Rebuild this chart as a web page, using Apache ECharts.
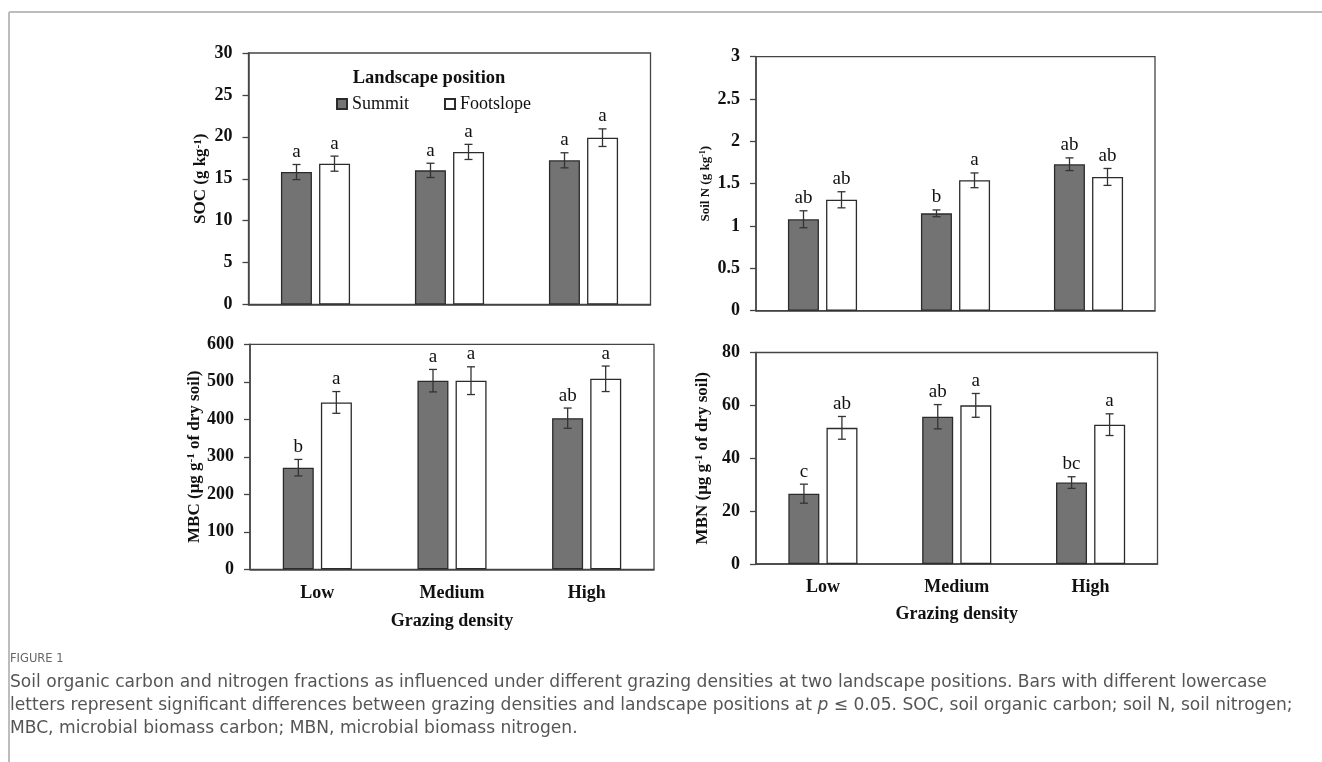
<!DOCTYPE html>
<html>
<head>
<meta charset="utf-8">
<script src="https://cdn.jsdelivr.net/npm/echarts@6/dist/echarts.min.js"></script>
<style>
html,body{margin:0;padding:0;background:#fff;}
#chart{width:1322px;height:762px;}
</style>
</head>
<body>
<div id="chart"></div>
<script>
// ---------- data ----------
const categories = ['Low', 'Medium', 'High'];
const seriesNames = ['Summit', 'Footslope'];

const socSummit = [15.8, 16.0, 17.2];
const socSummitErr = [0.9, 0.85, 0.9];
const socFoot = [16.8, 18.2, 19.9];
const socFootErr = [0.9, 0.9, 1.05];
const socSummitLetters = ['a', 'a', 'a'];
const socFootLetters = ['a', 'a', 'a'];

const nSummit = [1.08, 1.15, 1.73];
const nSummitErr = [0.1, 0.04, 0.075];
const nFoot = [1.31, 1.54, 1.58];
const nFootErr = [0.095, 0.087, 0.1];
const nSummitLetters = ['ab', 'b', 'ab'];
const nFootLetters = ['ab', 'a', 'ab'];

const mbcSummit = [271, 503, 403];
const mbcSummitErr = [22, 30, 27];
const mbcFoot = [445, 503, 508];
const mbcFootErr = [29, 37, 34];
const mbcSummitLetters = ['b', 'a', 'ab'];
const mbcFootLetters = ['a', 'a', 'a'];

const mbnSummit = [26.6, 55.7, 30.8];
const mbnSummitErr = [3.6, 4.6, 2.2];
const mbnFoot = [51.5, 60.0, 52.7];
const mbnFootErr = [4.3, 4.5, 4.1];
const mbnSummitLetters = ['c', 'ab', 'bc'];
const mbnFootLetters = ['ab', 'a', 'a'];

const yMax = [30, 3, 600, 80];
const yInterval = [5, 0.5, 100, 20];

const captionLabel = 'FIGURE 1';
const captionLines = [
  'Soil organic carbon and nitrogen fractions as influenced under different grazing densities at two landscape positions. Bars with different lowercase',
  'letters represent significant differences between grazing densities and landscape positions at {i|p} ≤ 0.05. SOC, soil organic carbon; soil N, soil nitrogen;',
  'MBC, microbial biomass carbon; MBN, microbial biomass nitrogen.'
];

// ---------- styling ----------
const SERIF = '"Liberation Serif", "Times New Roman", serif';
const SANS = '"DejaVu Sans", "Noto Sans", sans-serif';
const AX = '#444';
const BAR_W = 31;
const OFFSET = 19;

const grids = [
  {left: 248.5, top: 53, width: 402, height: 251.5},
  {left: 756, top: 56.7, width: 399, height: 254},
  {left: 250, top: 344.3, width: 404, height: 225},
  {left: 756, top: 352.5, width: 401.5, height: 211.5}
];

const yNames = [
  {text: 'SOC (g kg{sup|-1})', gap: 39, size: 17},
  {text: 'Soil N (g kg{sup|-1})', gap: 44, size: 13},
  {text: 'MBC (μg g{sup|-1} of dry soil)', gap: 47, size: 17},
  {text: 'MBN (μg g{sup|-1} of dry soil)', gap: 45, size: 17}
];

const panels = [
  {s: socSummit, se: socSummitErr, sl: socSummitLetters, f: socFoot, fe: socFootErr, fl: socFootLetters},
  {s: nSummit, se: nSummitErr, sl: nSummitLetters, f: nFoot, fe: nFootErr, fl: nFootLetters},
  {s: mbcSummit, se: mbcSummitErr, sl: mbcSummitLetters, f: mbcFoot, fe: mbcFootErr, fl: mbcFootLetters},
  {s: mbnSummit, se: mbnSummitErr, sl: mbnSummitLetters, f: mbnFoot, fe: mbnFootErr, fl: mbnFootLetters}
];

function errRender(offset, letters) {
  return function (params, api) {
    const x = api.value(0), v = api.value(1), e = api.value(2);
    const hi = api.coord([x, v + e]);
    const lo = api.coord([x, v - e]);
    const cx = hi[0] + offset;
    const cap = 4;
    const st = {stroke: '#333', lineWidth: 1.3};
    return {
      type: 'group',
      children: [
        {type: 'line', shape: {x1: cx, y1: hi[1], x2: cx, y2: lo[1]}, style: st},
        {type: 'line', shape: {x1: cx - cap, y1: hi[1], x2: cx + cap, y2: hi[1]}, style: st},
        {type: 'line', shape: {x1: cx - cap, y1: lo[1], x2: cx + cap, y2: lo[1]}, style: st},
        {type: 'text', style: {text: letters[params.dataIndex], x: cx, y: hi[1] - 3,
          align: 'center', verticalAlign: 'bottom', fill: '#111',
          font: '19px ' + SERIF}}
      ]
    };
  };
}

const option = {
  animation: false,
  backgroundColor: '#fff',
  grid: grids.map(g => Object.assign({show: true, borderColor: AX, borderWidth: 1.3, backgroundColor: 'transparent'}, g)),
  xAxis: grids.map((g, i) => ({
    type: 'category', gridIndex: i, data: categories,
    axisLine: {lineStyle: {color: AX, width: 1.5}},
    axisTick: {show: false},
    axisLabel: {show: i >= 2, margin: i === 2 ? 15 : 14, color: '#111', fontFamily: SERIF, fontWeight: 'bold', fontSize: 18},
    name: i >= 2 ? 'Grazing density' : '',
    nameLocation: 'middle', nameGap: i === 2 ? 43 : 41,
    nameTextStyle: {color: '#111', fontFamily: SERIF, fontWeight: 'bold', fontSize: 18}
  })),
  yAxis: grids.map((g, i) => ({
    type: 'value', gridIndex: i, min: 0, max: yMax[i], interval: yInterval[i],
    axisLine: {show: true, lineStyle: {color: AX, width: 1.5}},
    axisTick: {show: true, length: 6, lineStyle: {color: AX, width: 1.3}},
    splitLine: {show: false},
    axisLabel: {margin: 16, color: '#111', fontFamily: SERIF, fontWeight: 'bold', fontSize: 18},
    name: yNames[i].text, nameLocation: 'middle', nameRotate: 90, nameGap: yNames[i].gap,
    nameTextStyle: {color: '#111', fontFamily: SERIF, fontWeight: 'bold', fontSize: yNames[i].size,
      rich: {sup: {fontFamily: SERIF, fontWeight: 'bold', fontSize: Math.round(yNames[i].size * 0.62), verticalAlign: 'top', color: '#111'}}}
  })),
  legend: {
    left: 336, top: 95, padding: 0, itemWidth: 10, itemHeight: 10, itemGap: 35, icon: 'rect',
    data: seriesNames,
    textStyle: {fontFamily: SERIF, fontSize: 18, color: '#111'}
  },
  series: []
};

panels.forEach((p, i) => {
  option.series.push({
    name: seriesNames[0], type: 'bar', xAxisIndex: i, yAxisIndex: i, data: p.s,
    barWidth: BAR_W, barGap: '23%',
    itemStyle: {color: '#737373', borderColor: '#2b2b2b', borderWidth: 1.3}
  });
  option.series.push({
    name: seriesNames[1], type: 'bar', xAxisIndex: i, yAxisIndex: i, data: p.f,
    barWidth: BAR_W, barGap: '23%',
    itemStyle: {color: '#ffffff', borderColor: '#2b2b2b', borderWidth: 1.3}
  });
  option.series.push({
    type: 'custom', xAxisIndex: i, yAxisIndex: i, z: 5,
    data: p.s.map((v, k) => [k, v, p.se[k]]),
    encode: {x: 0, y: 1},
    renderItem: errRender(-OFFSET, p.sl)
  });
  option.series.push({
    type: 'custom', xAxisIndex: i, yAxisIndex: i, z: 5,
    data: p.f.map((v, k) => [k, v, p.fe[k]]),
    encode: {x: 0, y: 1},
    renderItem: errRender(OFFSET, p.fl)
  });
});

option.graphic = [
  {type: 'line', shape: {x1: 9, y1: 12, x2: 1322, y2: 12}, style: {stroke: '#bdbdbd', lineWidth: 2}},
  {type: 'line', shape: {x1: 9, y1: 12, x2: 9, y2: 762}, style: {stroke: '#bdbdbd', lineWidth: 2}},
  {type: 'text', x: 429, y: 78, style: {text: 'Landscape position', align: 'center', verticalAlign: 'middle',
    font: 'bold 18.5px ' + SERIF, fill: '#111'}},
  {type: 'text', x: 10, y: 659, style: {text: captionLabel, verticalAlign: 'middle',
    font: '11.5px ' + SANS, fill: '#666'}}
].concat(captionLines.map((t, k) => ({
  type: 'text', x: 10, y: 683 + k * 23,
  style: {text: t, verticalAlign: 'middle', font: '17.1px ' + SANS, fill: '#555',
    rich: {i: {fontStyle: 'italic', font: 'italic 17.1px ' + SANS, fill: '#555'}}}
})));

const chart = echarts.init(document.getElementById('chart'), null, {renderer: 'canvas'});
chart.setOption(option);
</script>
</body>
</html>
